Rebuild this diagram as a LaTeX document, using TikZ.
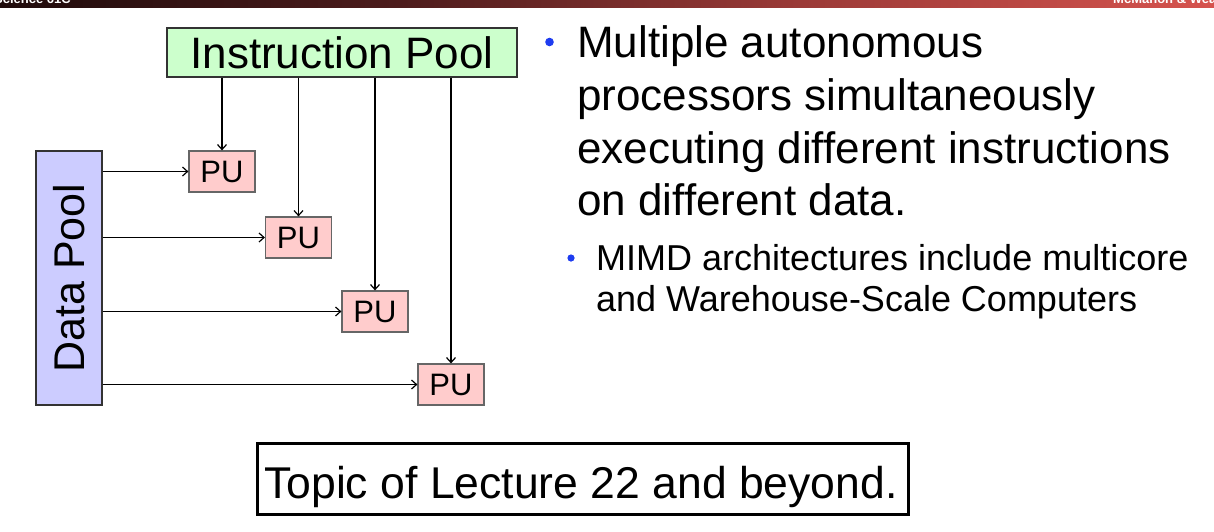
\documentclass[tikz,border=0pt]{standalone}
\usepackage{fontspec}
\setmainfont{Liberation Sans}
\usetikzlibrary{arrows.meta}

\definecolor{ipfill}{HTML}{CCFFCC}
\definecolor{pufill}{HTML}{FFCCCC}
\definecolor{dpfill}{HTML}{CCCCFF}
\definecolor{pubord}{HTML}{666666}
\definecolor{bulletblue}{HTML}{1E3CF0}
\definecolor{barA}{HTML}{1F0B0B}
\definecolor{barB}{HTML}{4D1C1C}
\definecolor{barC}{HTML}{9B3A37}
\definecolor{barD}{HTML}{D6534E}

\tikzset{
  pool/.style={draw=black!80, line width=1.2pt, inner sep=0pt},
  pubox/.style={draw=pubord, fill=pufill, line width=1.2pt, inner sep=0pt,
    minimum width=66pt, minimum height=41pt,
    font=\fontsize{31}{34}\selectfont},
  feed/.style={line width=1.2pt, -{Straight Barb[length=5pt,width=9pt,line width=1.2pt]}},
  bigtext/.style={anchor=base west, inner sep=0pt, font=\fontsize{44}{52}\selectfont},
  subtext/.style={anchor=base west, inner sep=0pt, font=\fontsize{36}{42}\selectfont},
  bartext/.style={inner sep=0pt, text=white, font=\fontsize{13}{15}\selectfont\bfseries}
}

\begin{document}
\begin{tikzpicture}[x=1pt, y=-1pt]
\useasboundingbox (0,0) rectangle (1214,531);

% header bar
\shade[left color=barA, right color=barB] (0,0) rectangle (400,7);
\shade[left color=barB, right color=barC] (400,0) rectangle (800,7);
\shade[left color=barC, right color=barD] (800,0) rectangle (1214,7);
\begin{scope}
  \clip (0,0) rectangle (1214,7);
  \node[bartext, anchor=base west] (course) at (-6,3.5) {Science 61C};
  \node[bartext, anchor=base west] (authors) at (1113,3.5) {McMahon \& Weaver};
\end{scope}

% pools
\node[pool, fill=ipfill, minimum width=350pt, minimum height=49pt,
  font=\fontsize{44}{50}\selectfont] (ip) at (342,52.5) {Instruction Pool};
\node[pool, fill=dpfill, minimum width=66pt, minimum height=254pt,
  font=\fontsize{43}{50}\selectfont] (dp) at (69,278) {\rotatebox{90}{Data Pool}};

% processing units
\node[pubox] (pu1) at (222,171.5) {PU};
\node[pubox] (pu2) at (298.5,237.5) {PU};
\node[pubox] (pu3) at (375,311.5) {PU};
\node[pubox] (pu4) at (451,384.5) {PU};

% instruction and data streams
\foreach \p in {pu1,pu2,pu3,pu4}{
  \draw[feed] (ip.south -| \p.north) -- (\p.north);
  \draw[feed] (dp.east |- \p.west) -- (\p.west);
}

% bullet list
\fill[bulletblue] (549.5,42) circle (4.3pt);
\node[bigtext] (l1) at (577,57) {Multiple autonomous};
\node[bigtext] (l2) at (577,110) {processors simultaneously};
\node[bigtext] (l3) at (577,163) {executing different instructions};
\node[bigtext] (l4) at (577,215) {on different data.};

\fill[bulletblue] (571,258) circle (3.6pt);
\node[subtext] (s1) at (596,270) {MIMD architectures include multicore};
\node[subtext] (s2) at (596,311) {and Warehouse-Scale Computers};

% footer note
\node[draw=black, line width=3pt, minimum width=651pt, minimum height=71pt, inner sep=0pt]
  (note) at (582.5,478.5) {};
\node[anchor=base, inner sep=0pt, font=\fontsize{44.5}{52}\selectfont] (notetext)
  at (581,498) {Topic of Lecture 22 and beyond.};
\end{tikzpicture}
\end{document}
